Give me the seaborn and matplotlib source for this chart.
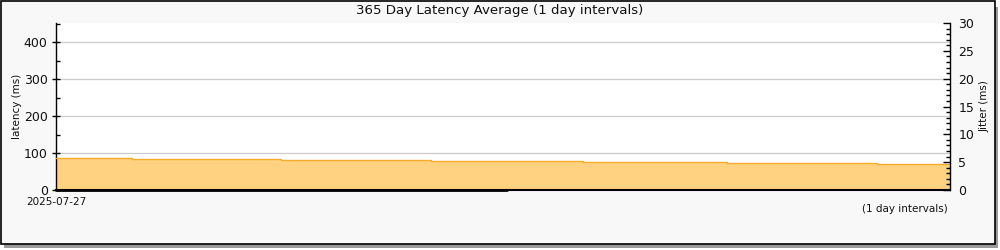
import matplotlib
matplotlib.use("Agg")
import matplotlib.pyplot as plt
from matplotlib.ticker import MultipleLocator
from matplotlib.patches import Rectangle
import numpy as np
import pandas as pd
import seaborn as sns

# ---- data ----
period_starts = ["2025-07-27", "2025-08-27", "2025-09-27", "2025-10-27", "2025-11-27",
                 "2025-12-27", "2026-01-27", "2026-02-27", "2026-03-27", "2026-04-27",
                 "2026-05-27", "2026-06-27", "2026-07-27"]
latency_ms = [87, 84.5, 84, 81, 80.5, 78, 78.5, 75.5, 75, 73.5, 73, 70]
jitter_ms = [0, 0, 0, 0, 0, 0, np.nan, np.nan, np.nan, np.nan, np.nan, np.nan]
title = "365 Day Latency Average (1 day intervals)"
x_tick_labels = ["2025-07-27"]

sns.set_style("white")
plt.rcParams['font.family'] = ['DejaVu Sans']

dates = pd.to_datetime(period_starts)
lat = latency_ms + [latency_ms[-1]]
df = pd.DataFrame({"date": dates, "latency": lat})

fig = plt.figure(figsize=(10, 2.5), dpi=100)
fig.patch.set_facecolor("#f8f8f8")
ax = fig.add_axes([0.056, 0.24, 0.894, 0.668])
ax.set_facecolor("white")

fill_c = "#fed280"
line_c = "#f5ab2c"
ax.fill_between(df["date"], 0, df["latency"], step="post", color=fill_c, lw=0, zorder=2)
sns.lineplot(data=df, x="date", y="latency", drawstyle="steps-post", color=line_c,
             lw=1.0, ax=ax, zorder=3)

ax.set_ylim(0, 452)
ax.set_xlim(dates[0], dates[-1])
ax.yaxis.set_major_locator(MultipleLocator(100))
ax.yaxis.set_minor_locator(MultipleLocator(50))
ax.grid(axis="y", which="major", color="#cccccc", lw=0.9, zorder=0)
ax.set_axisbelow(True)
ax.set_xticks([dates[0]])
ax.set_xticklabels(x_tick_labels)
ax.tick_params(axis="x", length=0, labelsize=7.5, pad=5, colors="#111111")
ax.tick_params(axis="y", which="major", direction="inout", length=6, width=1, labelsize=9,
               colors="black", labelcolor="#111111", pad=3)
ax.tick_params(axis="y", which="minor", direction="in", length=3, width=1, colors="black")
for lbl in ax.get_yticklabels():
    lbl.set_verticalalignment("center_baseline")
ax.set_ylabel("latency (ms)", fontsize=7.5, labelpad=1, color="#111111")
ax.set_xlabel("")
ax.spines["left"].set_color("black")
ax.spines["bottom"].set_color("black")
ax.spines["left"].set_linewidth(1.0)
ax.spines["bottom"].set_linewidth(1.5)
ax.spines["top"].set_visible(False)
ax.spines["right"].set_visible(False)

ax2 = ax.twinx()
jit = np.array(jitter_ms + [jitter_ms[-1]], dtype=float)
ax2.plot(dates, jit, drawstyle="steps-post", color="black", lw=2.0, zorder=4,
         clip_on=False)
ax2.set_ylim(0, 30)
ax2.yaxis.set_major_locator(MultipleLocator(5))
ax2.yaxis.set_minor_locator(MultipleLocator(1))
ax2.tick_params(axis="y", which="major", direction="in", length=5, width=1, labelsize=9,
                colors="black", labelcolor="#111111", pad=6)
ax2.tick_params(axis="y", which="minor", direction="in", length=3, width=1, colors="black")
ax2.set_ylabel("Jitter (ms)", fontsize=7.5, labelpad=4, color="#111111")
ax2.spines["right"].set_color("black")
ax2.spines["right"].set_linewidth(1.0)
for s in ["top", "left", "bottom"]:
    ax2.spines[s].set_visible(False)
ax2.grid(False)

fig.text(0.5, 0.958, title, ha="center", va="center", fontsize=9.6, color="#111111")
fig.text(0.948, 0.163, "(1 day intervals)", ha="right", va="center", fontsize=7.5,
         color="#111111")

# border with shadow
fig.patches.append(Rectangle((0.004, 0.008), 0.994, 0.966, transform=fig.transFigure,
                             facecolor="#9a9a9a", edgecolor="none", zorder=-2))
fig.patches.append(Rectangle((0.0005, 0.026), 0.994, 0.970, transform=fig.transFigure,
                             facecolor="#f8f8f8", edgecolor="black", lw=1.2, zorder=-1))

fig.savefig("out.png", dpi=100, facecolor="white")
